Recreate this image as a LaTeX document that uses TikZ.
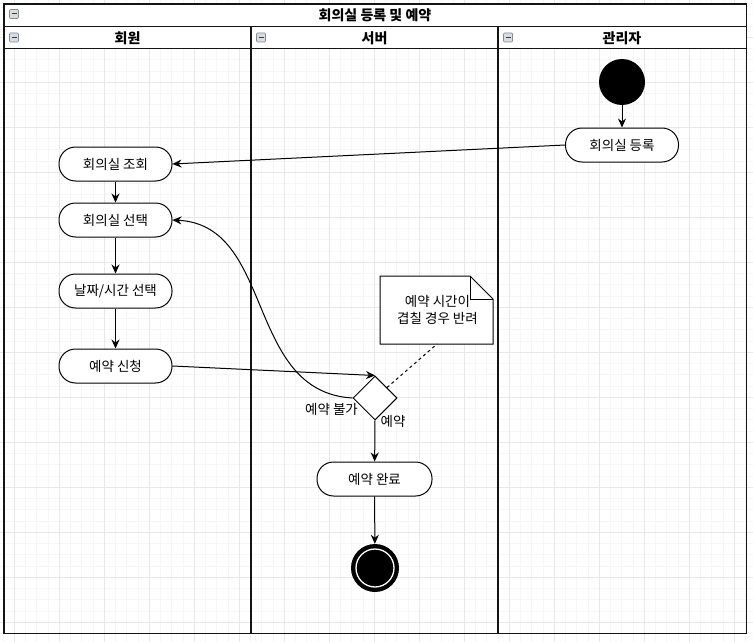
\documentclass[tikz,border=0pt]{standalone}
\usepackage{fontspec}
\setmainfont{Noto Sans CJK KR}
\usetikzlibrary{arrows.meta,shapes.geometric}

\begin{document}
\begin{tikzpicture}[x=1pt,y=-1pt,
  minorgrid/.style={draw={rgb,255:red,246;green,246;blue,246}, line width=0.8pt},
  majorgrid/.style={draw={rgb,255:red,232;green,232;blue,232}, line width=0.8pt},
  frameline/.style={line width=1.6pt, draw={rgb,255:red,20;green,20;blue,20}},
  act/.style={draw, fill=white, line width=1pt, rounded corners=16.5pt,
    minimum width=113pt, minimum height=34pt, inner sep=0pt,
    font=\fontsize{13.5}{16}\selectfont},
  initdot/.style={circle, fill=black, minimum size=46pt, inner sep=0pt},
  finaldot/.style={circle, fill=black, minimum size=48pt, inner sep=0pt},
  decision/.style={diamond, draw, fill=white, line width=1pt, minimum width=44pt,
    minimum height=44pt, inner sep=0pt, aspect=1},
  lbl/.style={font=\fontsize{13.5}{16}\selectfont, inner sep=0pt},
  headtext/.style={font=\fontsize{14}{16}\selectfont\bfseries, inner sep=0pt},
  flow/.style={-{Stealth[length=9pt,width=8pt]}, line width=1pt},
  notelink/.style={line width=1pt, dash pattern=on 3pt off 3pt},
  iconbox/.style={draw={rgb,255:red,130;green,140;blue,150}, fill={rgb,255:red,215;green,220;blue,225}, line width=0.7pt, rounded corners=1pt}
]
\useasboundingbox (0,0) rectangle (753,642);
\fill[white] (0,0) rectangle (753,642);

% background grid
\foreach \k in {0,...,70} {
  \draw[minorgrid] ({-30.7+11.25*\k},0) -- ({-30.7+11.25*\k},642);
}
\foreach \k in {0,...,58} {
  \draw[minorgrid] (0,{-7.7+11.25*\k}) -- (753,{-7.7+11.25*\k});
}
\foreach \k in {0,...,17} {
  \draw[majorgrid] ({-30.7+45*\k},0) -- ({-30.7+45*\k},642);
}
\foreach \k in {0,...,14} {
  \draw[majorgrid] (0,{-7.7+45*\k}) -- (753,{-7.7+45*\k});
}

% pool title and lane headers
\fill[white] (4,4) rectangle (746.5,48.5);
\draw[frameline] (4,4) rectangle (746.5,633.5);
\draw[frameline] (4,26.5) -- (746.5,26.5);
\draw[frameline] (4,48.5) -- (746.5,48.5);
\draw[frameline] (251,26.5) -- (251,633.5);
\draw[frameline] (498,26.5) -- (498,633.5);

% collapse icons
\foreach \cx/\cy in {14/14, 14/37.5, 261/37.5, 508/37.5} {
  \draw[iconbox] (\cx-4.5,\cy-4.5) rectangle (\cx+4.5,\cy+4.5);
  \draw[line width=1pt, draw={rgb,255:red,60;green,60;blue,60}] (\cx-2.5,\cy) -- (\cx+2.5,\cy);
}

\node[headtext] (pooltitle) at (375,15.5) {회의실 등록 및 예약};
\node[headtext] (lanemember) at (127.5,38) {회원};
\node[headtext] (laneserver) at (374.5,38) {서버};
\node[headtext] (laneadmin) at (622,38) {관리자};

% activities
\node[initdot] (start) at (622,82) {};
\node[act] (reg) at (622,145) {회의실 등록};
\node[act] (view) at (115.5,164) {회의실 조회};
\node[act] (pick) at (115.5,220) {회의실 선택};
\node[act] (date) at (115.5,291) {날짜/시간 선택};
\node[act] (req) at (115.5,366) {예약 신청};
\node[decision] (dec) at (375,398) {};
\node[act, minimum width=115pt] (done) at (374.5,479) {예약 완료};
\node[finaldot] (end) at (375,568) {};
\node[circle, draw=white, line width=1.3pt, fill=black, minimum size=38pt, inner sep=0pt] (endcore) at (375,568) {};

% note
\draw[line width=1pt, fill=white] (380,276) -- (470,276) -- (493,299) -- (493,344) -- (380,344) -- cycle;
\draw[line width=1pt] (470,276) -- (470,299) -- (493,299);
\node[lbl, align=center, font=\fontsize{13.5}{17}\selectfont] (note) at (437.5,310) {예약 시간이\\겹칠 경우 반려};
\coordinate (notefoot) at (437,344);

% flows
\draw[flow] (start) -- (reg);
\draw[flow] (reg.west) -- (view.east);
\draw[flow] (view) -- (pick);
\draw[flow] (pick) -- (date);
\draw[flow] (date) -- (req);
\draw[flow] (req.east) -- (dec.north);
\draw[flow] (dec.west) .. controls (245,392) and (275,225) .. (pick.east);
\draw[flow] (dec.south) -- (done);
\draw[flow] (done) -- (end);
\draw[notelink] (dec) -- (notefoot);

% guard labels
\node[lbl] (nolabel) at (331.5,409) {예약 불가};
\node[lbl] (yeslabel) at (393,421.5) {예약};
\end{tikzpicture}
\end{document}
